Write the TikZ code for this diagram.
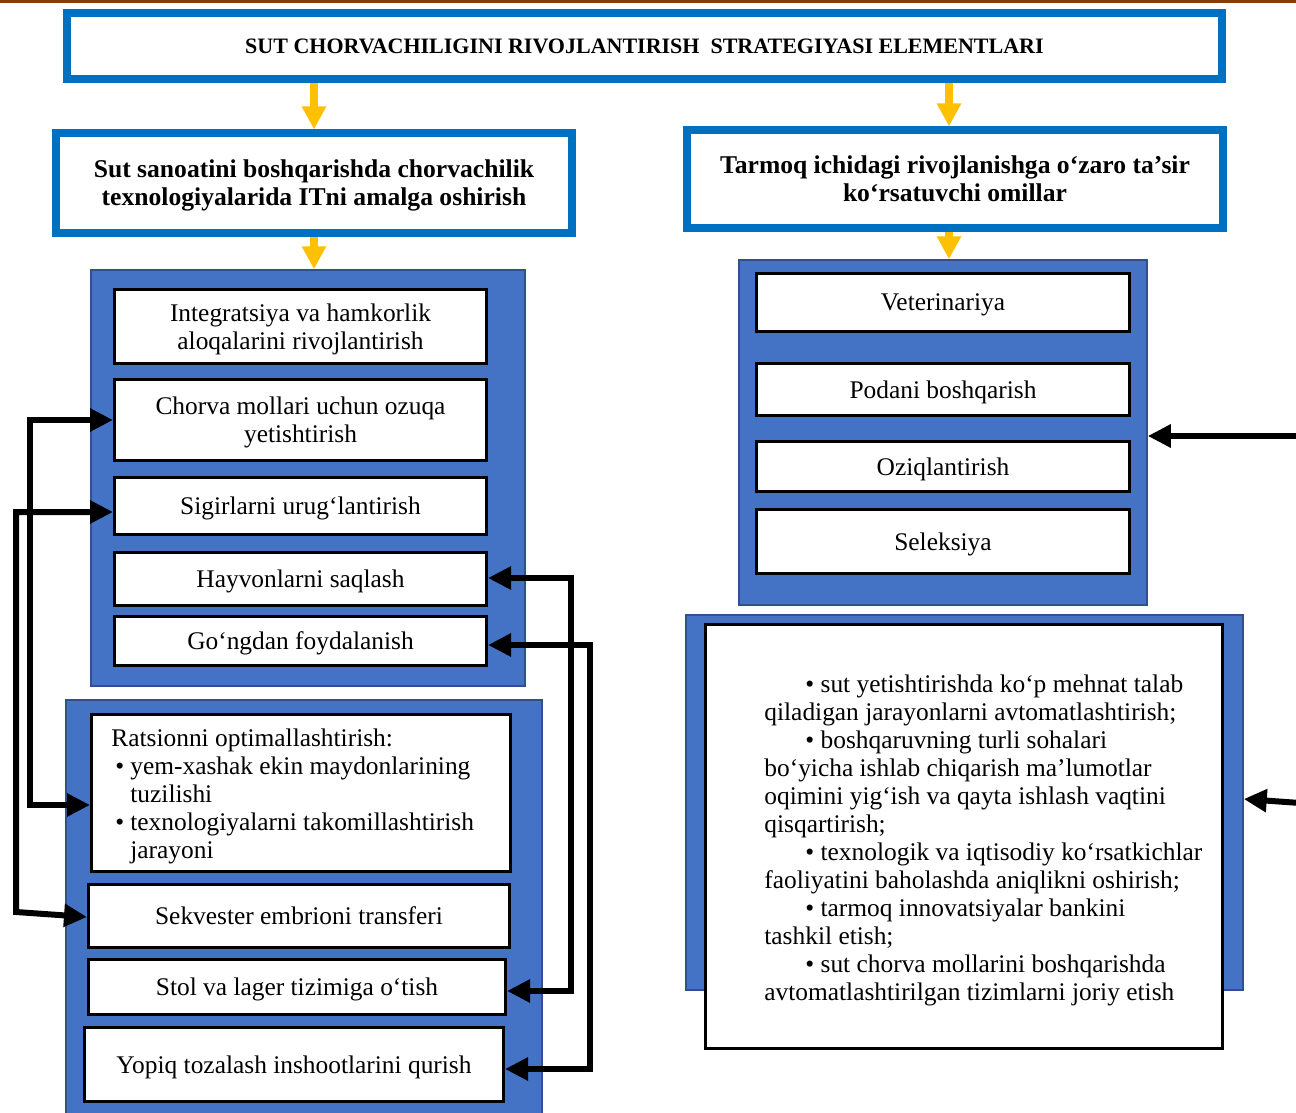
\documentclass[tikz,border=0pt]{standalone}
\usepackage{fontspec}
\setmainfont{Liberation Serif}
\usetikzlibrary{arrows.meta}
\definecolor{hblue}{HTML}{0070C0}
\definecolor{pblue}{HTML}{4472C4}
\definecolor{pborder}{HTML}{2F528F}
\definecolor{yel}{HTML}{FFC000}
\definecolor{brownline}{HTML}{843C0C}
\begin{document}
\begin{tikzpicture}[x=0.5pt,y=-0.5pt,
  hdr/.style={draw=hblue, line width=3.6pt, fill=white, inner sep=0pt, align=center, text depth=0pt, font=\bfseries\fontsize{12.8}{14}\selectfont},
  titlebox/.style={hdr, font=\bfseries\fontsize{11}{14}\selectfont},
  panel/.style={draw=pborder, line width=0.75pt, fill=pblue, inner sep=0pt},
  ibox/.style={draw=black, line width=1.5pt, fill=white, inner sep=0pt, align=center, text depth=0pt, font=\fontsize{12.7}{14}\selectfont},
  btext/.style={inner sep=0pt, align=left, anchor=west, font=\fontsize{12.7}{14}\selectfont},
  yarrow/.style={draw=yel, line width=4pt, -{Triangle[length=11.5pt,width=11.5pt]}},
  barrow/.style={draw=black, line width=3pt, -{Triangle[length=11.5pt,width=11pt]}},
  bdarrow/.style={draw=black, line width=3pt, {Triangle[length=11.5pt,width=11pt]}-{Triangle[length=11.5pt,width=11pt]}}
]
\useasboundingbox (0,0) rectangle (1296,1113);
\fill[white] (0,0) rectangle (1296,1113);
\fill[brownline] (0,0) rectangle (1296,3.5);

% headers
\node[titlebox, minimum width=577.5pt, minimum height=33pt] (title) at (644.5,46) {SUT CHORVACHILIGINI RIVOJLANTIRISH\ \ STRATEGIYASI ELEMENTLARI};
\node[hdr, minimum width=258pt, minimum height=50pt] (boxA) at (314,183) {Sut sanoatini boshqarishda chorvachilik\\texnologiyalarida ITni amalga oshirish};
\node[hdr, minimum width=268pt, minimum height=49pt] (boxB) at (955,179) {Tarmoq ichidagi rivojlanishga o‘zaro ta’sir\\ko‘rsatuvchi omillar};

% panels
\node[panel, minimum width=217pt, minimum height=208pt] (LP1) at (308,478) {};
\node[panel, minimum width=238pt, minimum height=208pt] (LP2) at (304,908) {};
\node[panel, minimum width=204pt, minimum height=172.5pt] (RP1) at (943,432.5) {};
\node[panel, minimum width=278.5pt, minimum height=187.5pt] (RP2) at (964.5,802.5) {};

% left inner boxes
\node[ibox, minimum width=186pt, minimum height=37pt] (L1) at (300.5,326.5) {Integratsiya va hamkorlik\\aloqalarini rivojlantirish};
\node[ibox, minimum width=186pt, minimum height=40.5pt] (L2) at (300.5,420) {Chorva mollari uchun ozuqa\\yetishtirish};
\node[ibox, minimum width=186pt, minimum height=28.5pt] (L3) at (300.5,506) {Sigirlarni urug‘lantirish};
\node[ibox, minimum width=186pt, minimum height=26.5pt] (L4) at (300.5,579) {Hayvonlarni saqlash};
\node[ibox, minimum width=186pt, minimum height=24.5pt] (L5) at (300.5,641) {Go‘ngdan foydalanish};

\node[ibox, minimum width=209.5pt, minimum height=78.5pt] (L6) at (301,793) {};
\node[btext] (L6t) at (111,796) {Ratsionni optimallashtirish:\\
\makebox[9.5pt][l]{\hspace{2pt}•}yem-xashak ekin maydonlarining\\
\hspace*{9.5pt}tuzilishi\\
\makebox[9.5pt][l]{\hspace{2pt}•}texnologiyalarni takomillashtirish\\
\hspace*{9.5pt}jarayoni};
\node[ibox, minimum width=210.5pt, minimum height=31.5pt] (L7) at (299,916) {Sekvester embrioni transferi};
\node[ibox, minimum width=208.5pt, minimum height=27.5pt] (L8) at (297,987) {Stol va lager tizimiga o‘tish};
\node[ibox, minimum width=209.5pt, minimum height=37pt] (L9) at (294,1064.5) {Yopiq tozalash inshootlarini qurish};

% right inner boxes
\node[ibox, minimum width=186.5pt, minimum height=29pt] (R1) at (943,302.5) {Veterinariya};
\node[ibox, minimum width=186.5pt, minimum height=26pt] (R2) at (943,389.5) {Podani boshqarish};
\node[ibox, minimum width=186.5pt, minimum height=25pt] (R3) at (943,466.5) {Oziqlantirish};
\node[ibox, minimum width=186.5pt, minimum height=32pt] (R4) at (943,541.5) {Seleksiya};

\node[ibox, minimum width=258.5pt, minimum height=212pt] (R5) at (964,836.5) {};
\node[btext] (R5t) at (764,840) {\hspace*{20.5pt}• sut yetishtirishda ko‘p mehnat talab\\
qiladigan jarayonlarni avtomatlashtirish;\\
\hspace*{20.5pt}• boshqaruvning turli sohalari\\
bo‘yicha ishlab chiqarish ma’lumotlar\\
oqimini yig‘ish va qayta ishlash vaqtini\\
qisqartirish;\\
\hspace*{20.5pt}• texnologik va iqtisodiy ko‘rsatkichlar\\
faoliyatini baholashda aniqlikni oshirish;\\
\hspace*{20.5pt}• tarmoq innovatsiyalar bankini\\
tashkil etish;\\
\hspace*{20.5pt}• sut chorva mollarini boshqarishda\\
avtomatlashtirilgan tizimlarni joriy etish};

% yellow arrows
\coordinate (aR) at (949,0);
\draw[yarrow] (title.south -| boxA.north) -- (boxA.north);
\draw[yarrow] (title.south -| aR) -- (boxB.north -| aR);
\draw[yarrow] (boxA.south) -- (LP1.north -| boxA.south);
\draw[yarrow] (boxB.south -| aR) -- (RP1.north -| aR);

% right edge arrows
\coordinate (e1) at (1300,436);
\draw[barrow] (e1) -- (RP1.east |- e1);
\coordinate (e2) at (1300,803);
\coordinate (e2t) at (0,799);
\draw[barrow] (e2) -- (RP2.east |- e2t);

% left connectors
\coordinate (c1a) at (30,420);
\coordinate (c1b) at (30,805);
\draw[bdarrow] (L2.west |- c1a) -- (c1a) -- (c1b) -- (L6.west |- c1b);
\coordinate (c2a) at (16,512);
\coordinate (c2b) at (16,912);
\coordinate (c2c) at (0,917);
\draw[bdarrow] (L3.west |- c2a) -- (c2a) -- (c2b) -- (L7.west |- c2c);
\coordinate (c3a) at (571,578);
\coordinate (c3b) at (571,991);
\draw[bdarrow] (L4.east |- c3a) -- (c3a) -- (c3b) -- (L8.east |- c3b);
\coordinate (c4a) at (590,645);
\coordinate (c4b) at (590,1069);
\draw[bdarrow] (L5.east |- c4a) -- (c4a) -- (c4b) -- (L9.east |- c4b);
\end{tikzpicture}
\end{document}
